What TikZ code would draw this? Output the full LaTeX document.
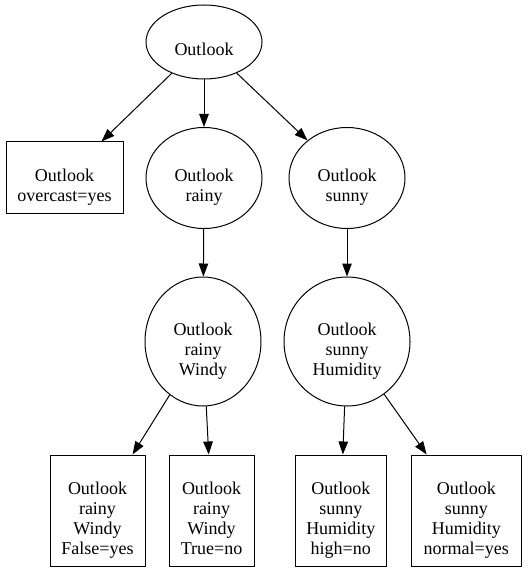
\documentclass[tikz,border=0pt]{standalone}
\usepackage{fontspec}
\setmainfont{Liberation Serif}
\usetikzlibrary{shapes.geometric,arrows.meta}
\tikzset{
  ell/.style={draw, ellipse, inner sep=0pt, line width=1pt},
  box/.style={draw, rectangle, inner sep=0pt, line width=1pt},
  every label/.style={align=center, font=\fontsize{18}{20}\selectfont, yshift=-9.5pt, inner sep=0pt},
  conn/.style={line width=1pt, -{Triangle[length=13pt,width=9.5pt]}}
}
\begin{document}
\begin{tikzpicture}[x=1pt,y=-1pt]
\useasboundingbox[fill=white] (0,0) rectangle (527,572);
\node[ell, minimum width=116pt, minimum height=74pt, label=center:{\strut Outlook\strut}] (root) at (204,42) {};
\node[box, minimum width=117pt, minimum height=71pt, label=center:{\strut Outlook\\overcast=yes\strut}] (over) at (64.5,177.5) {};
\node[ell, minimum width=116pt, minimum height=101pt, label=center:{\strut Outlook\\rainy\strut}] (rainy) at (204,178) {};
\node[ell, minimum width=116pt, minimum height=101pt, label=center:{\strut Outlook\\sunny\strut}] (sunny) at (347,178) {};
\node[ell, minimum width=116pt, minimum height=129pt, label=center:{\strut Outlook\\rainy\\Windy\strut}] (windy) at (203,341.5) {};
\node[ell, minimum width=126pt, minimum height=129pt, label=center:{\strut Outlook\\sunny\\Humidity\strut}] (humid) at (347,341.5) {};
\node[box, minimum width=95pt, minimum height=111.5pt, label=center:{\strut Outlook\\rainy\\Windy\\False=yes\strut}] (wf) at (97.5,510.75) {};
\node[box, minimum width=85pt, minimum height=111.5pt, label=center:{\strut Outlook\\rainy\\Windy\\True=no\strut}] (wt) at (211.5,510.75) {};
\node[box, minimum width=91.5pt, minimum height=111.5pt, label=center:{\strut Outlook\\sunny\\Humidity\\high=no\strut}] (hh) at (340.75,510.75) {};
\node[box, minimum width=109.5pt, minimum height=111.5pt, label=center:{\strut Outlook\\sunny\\Humidity\\normal=yes\strut}] (hn) at (466.25,510.75) {};
\draw[conn] (root) -- (over);
\draw[conn] (root) -- (rainy);
\draw[conn] (root) -- (sunny);
\draw[conn] (rainy) -- (windy);
\draw[conn] (sunny) -- (humid);
\draw[conn] (windy) -- (wf);
\draw[conn] (windy) -- (wt);
\draw[conn] (humid) -- (hh);
\draw[conn] (humid) -- (hn);
\end{tikzpicture}
\end{document}
